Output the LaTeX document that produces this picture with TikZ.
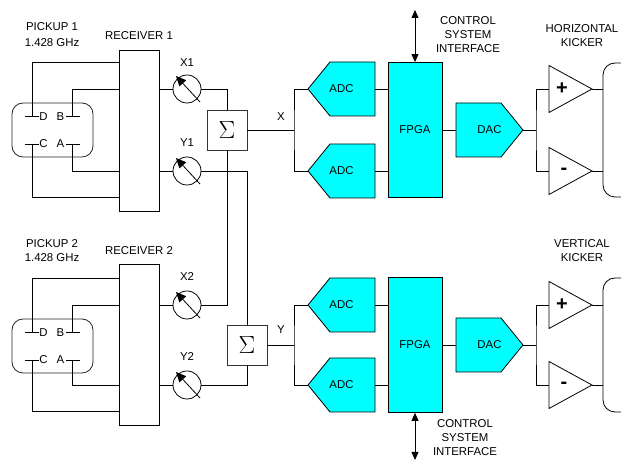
\documentclass[tikz,border=0pt]{standalone}
\usepackage{fontspec}
\setmainfont{Liberation Sans}
\usepackage{tikz}
\usetikzlibrary{
    arrows.meta,
    positioning
}
\usepackage{xcolor}
\definecolor{boardcyan}{RGB}{0,255,255}
\newcommand{\lblfont}{\fontsize{11.4}{14}\selectfont}

\begin{document}
\begin{tikzpicture}[x=1pt, y=1pt, line width=0.8pt,
    lbl/.style={font=\lblfont, inner sep=0pt},
    pickupbox/.style={draw=black!85, rounded corners=11pt, minimum width=81pt, minimum height=54pt},
    rxbox/.style={draw, minimum width=40pt, minimum height=161pt, inner sep=0pt},
    meter/.style={draw, circle, minimum size=28pt, inner sep=0pt},
    meterarrow/.style={-{Triangle[length=10pt,width=9pt]}},
    sigmabox/.style={draw=black!80, fill=white, minimum size=40pt, inner sep=0pt, font=\Huge},
    chipshape/.style={draw, fill=boardcyan},
    chipbox/.style={font=\lblfont, minimum width=67pt, minimum height=54pt, inner sep=0pt},
    fpgabox/.style={draw, fill=boardcyan, font=\lblfont, minimum width=54pt, minimum height=135pt},
    ampbox/.style={minimum width=43pt, minimum height=47pt, inner sep=0pt},
    ampsign/.style={font=\fontsize{20}{20}\selectfont\bfseries, inner sep=0pt},
    kickerbox/.style={draw, rounded corners=12pt, minimum width=40pt, minimum height=134pt},
    ctrlarrow/.style={{Triangle[length=8pt,width=7pt]}-{Triangle[length=8pt,width=7pt]}}
]
    \useasboundingbox (0,0) rectangle (621,462);
    \clip (0,0) rectangle (621,462);

    % ---------------- horizontal channel (top) ----------------
    % Pickup 1 and its electrodes
    \node[pickupbox] (pu1) at (52.5,332) {};
    \draw (25,345.5) -- (39,345.5) (66,345.5) -- (80,345.5);
    \draw (25,318) -- (39,318) (66,318) -- (80,318);
    \coordinate (tD1) at (32,345.5);
    \coordinate (tB1) at (72,345.5);
    \coordinate (tC1) at (32,318);
    \coordinate (tA1) at (72,318);
    \node[lbl] (eD1) at (43.5,345.5) {D};
    \node[lbl] (eB1) at (60.5,345.5) {B};
    \node[lbl] (eC1) at (43.5,318) {C};
    \node[lbl] (eA1) at (60.5,318) {A};
    \node[lbl, align=center, font=\fontsize{11.4}{16}\selectfont] (pl1) at (52,427) {PICKUP 1\\1.428 GHz};

    % Receiver 1 and the phase meters
    \node[rxbox] (rx1) at (139,331.5) {};
    \node[lbl] (rl1) at (139,426) {RECEIVER 1};
    \node[meter] (mx1) at (187,373) {};
    \node[meter] (my1) at (187,291) {};
    \draw[meterarrow] ([shift={(13,-13)}]mx1.center) -- ++(-24,26);
    \draw[meterarrow] ([shift={(13,-13)}]my1.center) -- ++(-24,26);
    \node[lbl] (lx1) at (187,399) {X1};
    \node[lbl] (ly1) at (187,319) {Y1};

    \draw (tD1) |- ([yshift=-13pt]rx1.north west);
    \draw (tB1) |- (rx1.west |- mx1);
    \draw (tA1) |- (rx1.west |- my1);
    \draw (tC1) |- ([yshift=14pt]rx1.south west);
    \draw (rx1.east |- mx1) -- (mx1);
    \draw (rx1.east |- my1) -- (my1);

    % ---------------- vertical channel (bottom) ----------------
    % Pickup 2 and its electrodes
    \node[pickupbox] (pu2) at (52.5,116) {};
    \draw (25,129.5) -- (39,129.5) (66,129.5) -- (80,129.5);
    \draw (25,102) -- (39,102) (66,102) -- (80,102);
    \coordinate (tD2) at (32,129.5);
    \coordinate (tB2) at (72,129.5);
    \coordinate (tC2) at (32,102);
    \coordinate (tA2) at (72,102);
    \node[lbl] (eD2) at (43.5,129.5) {D};
    \node[lbl] (eB2) at (60.5,129.5) {B};
    \node[lbl] (eC2) at (43.5,102) {C};
    \node[lbl] (eA2) at (60.5,102) {A};
    \node[lbl, align=center] (pl2) at (52,211) {PICKUP 2\\1.428 GHz};

    % Receiver 2 and the phase meters
    \node[rxbox] (rx2) at (139,117) {};
    \node[lbl] (rl2) at (139,211) {RECEIVER 2};
    \node[meter] (mx2) at (187,157) {};
    \node[meter] (my2) at (187,77) {};
    \draw[meterarrow] ([shift={(13,-13)}]mx2.center) -- ++(-24,26);
    \draw[meterarrow] ([shift={(13,-13)}]my2.center) -- ++(-24,26);
    \node[lbl] (lx2) at (187,185) {X2};
    \node[lbl] (ly2) at (187,105) {Y2};

    \draw (tD2) |- ([yshift=-14pt]rx2.north west);
    \draw (tB2) |- (rx2.west |- mx2);
    \draw (tA2) |- (rx2.west |- my2);
    \draw (tC2) |- ([yshift=14pt]rx2.south west);
    \draw (rx2.east |- mx2) -- (mx2);
    \draw (rx2.east |- my2) -- (my2);

    % ---------------- summing of the two pickups ----------------
    \node[sigmabox] (sig1) at (227,332) {$\Sigma$};
    \node[sigmabox] (sig2) at (247,117) {$\Sigma$};
    \draw (mx1) -| (sig1);
    \draw (mx2) -| (sig1);
    \draw (my1) -| (sig2);
    \draw (my2) -| (sig2);
    \coordinate (jx) at (294,332);
    \coordinate (jy) at (294,117);
    \draw (sig1) -- (jx);
    \draw (sig2) -- (jy);
    \node[lbl] (lx) at (281,345) {X};
    \node[lbl] (ly) at (281,132) {Y};

    % ---------------- ADCs ----------------
    \draw[chipshape] (308,373) -- ++(22,27) -- ++(45,0) -- ++(0,-54) -- ++(-45,0) -- cycle;
    \draw[chipshape] (308,291) -- ++(22,27) -- ++(45,0) -- ++(0,-54) -- ++(-45,0) -- cycle;
    \draw[chipshape] (308,157) -- ++(22,27) -- ++(45,0) -- ++(0,-54) -- ++(-45,0) -- cycle;
    \draw[chipshape] (308,77) -- ++(22,27) -- ++(45,0) -- ++(0,-54) -- ++(-45,0) -- cycle;
    \node[chipbox] (adc1) at (341.5,373) {ADC};
    \node[chipbox] (adc2) at (341.5,291) {ADC};
    \node[chipbox] (adc3) at (341.5,157) {ADC};
    \node[chipbox] (adc4) at (341.5,77) {ADC};
    \draw (adc1) -| (jx) |- (adc2);
    \draw (adc3) -| (jy) |- (adc4);

    % ---------------- FPGAs and control system ----------------
    \node[fpgabox] (fpga1) at (415,332) {FPGA};
    \node[fpgabox] (fpga2) at (415,117) {FPGA};
    \draw (adc1) -- (adc1 -| fpga1.west);
    \draw (adc2) -- (adc2 -| fpga1.west);
    \draw (adc3) -- (adc3 -| fpga2.west);
    \draw (adc4) -- (adc4 -| fpga2.west);
    \coordinate (cs1) at (415,452);
    \coordinate (cs2) at (415,2);
    \draw[ctrlarrow] (cs1) -- (fpga1);
    \draw[ctrlarrow] (fpga2) -- (cs2);
    \node[lbl, align=center] (csi1) at (468,427) {CONTROL\\SYSTEM\\INTERFACE};
    \node[lbl, align=center] (csi2) at (465,24) {CONTROL\\SYSTEM\\INTERFACE};

    % ---------------- DACs ----------------
    \draw[chipshape] (523,332) -- ++(-22,27) -- ++(-45,0) -- ++(0,-54) -- ++(45,0) -- cycle;
    \draw[chipshape] (523,117) -- ++(-22,27) -- ++(-45,0) -- ++(0,-54) -- ++(45,0) -- cycle;
    \node[chipbox] (dac1) at (489.5,332) {DAC};
    \node[chipbox] (dac2) at (489.5,117) {DAC};
    \draw (fpga1) -- (dac1);
    \draw (fpga2) -- (dac2);
    \coordinate (jd1) at (536,332);
    \coordinate (jd2) at (536,117);
    \draw (dac1) -- (jd1);
    \draw (dac2) -- (jd2);

    % ---------------- amplifiers and kickers ----------------
    \draw (592,373) -- ++(-43,23.5) -- ++(0,-47) -- cycle;
    \draw (592,291) -- ++(-43,23.5) -- ++(0,-47) -- cycle;
    \draw (592,157) -- ++(-43,23.5) -- ++(0,-47) -- cycle;
    \draw (592,77) -- ++(-43,23.5) -- ++(0,-47) -- cycle;
    \node[ampbox] (ampx1) at (570.5,373) {};
    \node[ampbox] (ampx2) at (570.5,291) {};
    \node[ampbox] (ampy1) at (570.5,157) {};
    \node[ampbox] (ampy2) at (570.5,77) {};
    \node[ampsign] (plusx) at (562,373) {+};
    \node[ampsign] (minusx) at (564,291) {-};
    \node[ampsign] (plusy) at (562,157) {+};
    \node[ampsign] (minusy) at (564,77) {-};
    \draw (ampx1) -| (jd1) |- (ampx2);
    \draw (ampy1) -| (jd2) |- (ampy2);

    \node[kickerbox] (kickx) at (623,332) {};
    \node[kickerbox] (kicky) at (623,117) {};
    \draw (ampx1) -- (ampx1 -| kickx.west);
    \draw (ampx2) -- (ampx2 -| kickx.west);
    \draw (ampy1) -- (ampy1 -| kicky.west);
    \draw (ampy2) -- (ampy2 -| kicky.west);
    \node[lbl, align=center] (hk) at (582,426.5) {HORIZONTAL\\KICKER};
    \node[lbl, align=center] (vk) at (582,211) {VERTICAL\\KICKER};

\end{tikzpicture}
\end{document}
